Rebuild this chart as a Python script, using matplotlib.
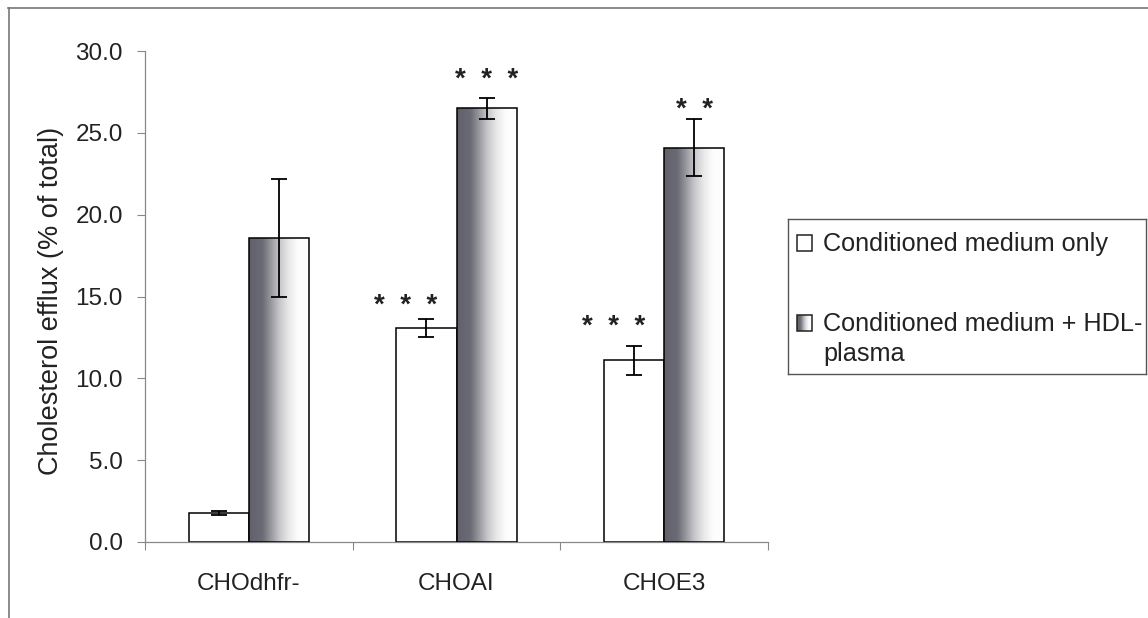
import numpy as np
import matplotlib
matplotlib.use("Agg")
import matplotlib.pyplot as plt
from matplotlib.patches import Rectangle
from matplotlib.lines import Line2D

plt.rcParams['font.family'] = ['Liberation Sans', 'DejaVu Sans']

# ---- data ----
categories = ["CHOdhfr-", "CHOAI", "CHOE3"]
medium_only = [1.8, 13.1, 11.1]
medium_only_err = [0.12, 0.55, 0.9]
medium_hdl = [18.6, 26.5, 24.1]
medium_hdl_err = [3.6, 0.65, 1.75]
series_labels = ["Conditioned medium only", "Conditioned medium + HDL-\nplasma"]
yticks = [0.0, 5.0, 10.0, 15.0, 20.0, 25.0, 30.0]
ylabel = "Cholesterol efflux (% of total)"

# significance marks: (series index, category index, marker text, label height)
sig_marks = [
    (0, 1, "*  *  *", 15.0),
    (1, 1, "*  *  *", 28.8),
    (0, 2, "*  *  *", 13.7),
    (1, 2, "*  *", 27.0),
]

FS = 17.5
DPI = 100
fig = plt.figure(figsize=(11.48, 6.18), dpi=DPI)
fig.patch.set_facecolor("white")

ax = fig.add_axes([145 / 1148, 1 - 542 / 618, (768 - 145) / 1148, (542 - 51) / 618])
ax.set_facecolor("white")

x = np.arange(len(categories))
width = 0.29

# horizontal grey gradient: dark on the left, fading to white on the right
t = np.linspace(0, 1, 256)
stops_t = [0.0, 0.22, 0.35, 0.5, 0.65, 0.8, 1.0]
stops_v = [0.38, 0.42, 0.58, 0.78, 0.91, 0.99, 1.0]
v = np.interp(t, stops_t, stops_v)
r = v
g = v
b = np.minimum(v + 0.04 * (1 - v) / 0.6, 1.0)
grad_img = np.stack([r, g, b], axis=-1)[None, :, :]

bars_a = ax.bar(x - width / 2, medium_only, width, color="white",
                edgecolor="black", linewidth=1.1, zorder=2)
bars_b = ax.bar(x + width / 2, medium_hdl, width, color="none",
                edgecolor="black", linewidth=1.1, zorder=3)

for bar in bars_b:
    x0, y0 = bar.get_x(), bar.get_y()
    w, h = bar.get_width(), bar.get_height()
    im = ax.imshow(grad_img, extent=[x0, x0 + w, y0, y0 + h], aspect="auto",
                   interpolation="bilinear", zorder=2)
    im.set_clip_path(Rectangle((x0, y0), w, h, transform=ax.transData))

ax.errorbar(x - width / 2, medium_only, yerr=medium_only_err, fmt="none",
            ecolor="black", elinewidth=1.3, capsize=6, capthick=1.3, zorder=4)
ax.errorbar(x + width / 2, medium_hdl, yerr=medium_hdl_err, fmt="none",
            ecolor="black", elinewidth=1.3, capsize=6, capthick=1.3, zorder=4)

for s, c, txt, h in sig_marks:
    xc = x[c] + (width / 2 if s == 1 else -width / 2 - 0.1)
    ax.annotate(txt, (xc, h), xytext=(0, -12), textcoords="offset points",
                ha="center", va="baseline", fontsize=20, fontweight="bold",
                color="#222222")

ax.set_xlim(-0.5, len(categories) - 0.5)
ax.set_ylim(0, 30)
ax.set_yticks(yticks)
ax.set_yticklabels([f"{v:.1f}" for v in yticks], fontsize=FS, color="#222222")
ax.set_xticks(x)
ax.set_xticklabels(categories, fontsize=FS, color="#222222")
ax.set_xticks(np.arange(len(categories) + 1) - 0.5, minor=True)
ax.tick_params(axis="x", which="major", length=0, pad=22)
ax.tick_params(axis="x", which="minor", length=6, width=0.8, color="#888888", direction="out")
ax.tick_params(axis="y", length=6, width=0.8, color="#888888", direction="out", pad=10)

for side in ["top", "right"]:
    ax.spines[side].set_visible(False)
for side in ["left", "bottom"]:
    ax.spines[side].set_color("#888888")
    ax.spines[side].set_linewidth(0.9)

fig.text(51 / 1148, 1 - 301 / 618, ylabel, rotation=90, ha="center", va="center",
         fontsize=19.5, color="#222222")

# outer chart frame (top and left edges visible)
fig.add_artist(Line2D([8 / 1148, 1.0], [1 - 8 / 618] * 2, transform=fig.transFigure,
                      color="#777777", linewidth=1.2))
fig.add_artist(Line2D([8.5 / 1148] * 2, [0.0, 1 - 8 / 618], transform=fig.transFigure,
                      color="#777777", linewidth=1.2))

# legend box
lax = fig.add_axes([788 / 1148, 1 - 374 / 618, (1146 - 788) / 1148, (374 - 219) / 618])
lax.set_xticks([])
lax.set_yticks([])
for sp in lax.spines.values():
    sp.set_color("#555555")
    sp.set_linewidth(1.0)

lax.add_patch(Rectangle((797, 235), 15, 16, facecolor="white", edgecolor="#222222", linewidth=1.1))
lax.imshow(grad_img, extent=[797, 812, 331, 315], aspect="auto",
           interpolation="bilinear", zorder=2)
lax.add_patch(Rectangle((797, 315), 15, 16, facecolor="none", edgecolor="#222222",
                        linewidth=1.1, zorder=3))
lax.set_xlim(788, 1146)
lax.set_ylim(374, 219)

LFS = 18.2
lax.text(823, 244, series_labels[0], ha="left", va="center", fontsize=LFS, color="#222222")
lax.text(823, 339, series_labels[1], ha="left", va="center", fontsize=LFS, color="#222222",
         linespacing=1.32)

fig.savefig("out.png", dpi=DPI, facecolor="white")
